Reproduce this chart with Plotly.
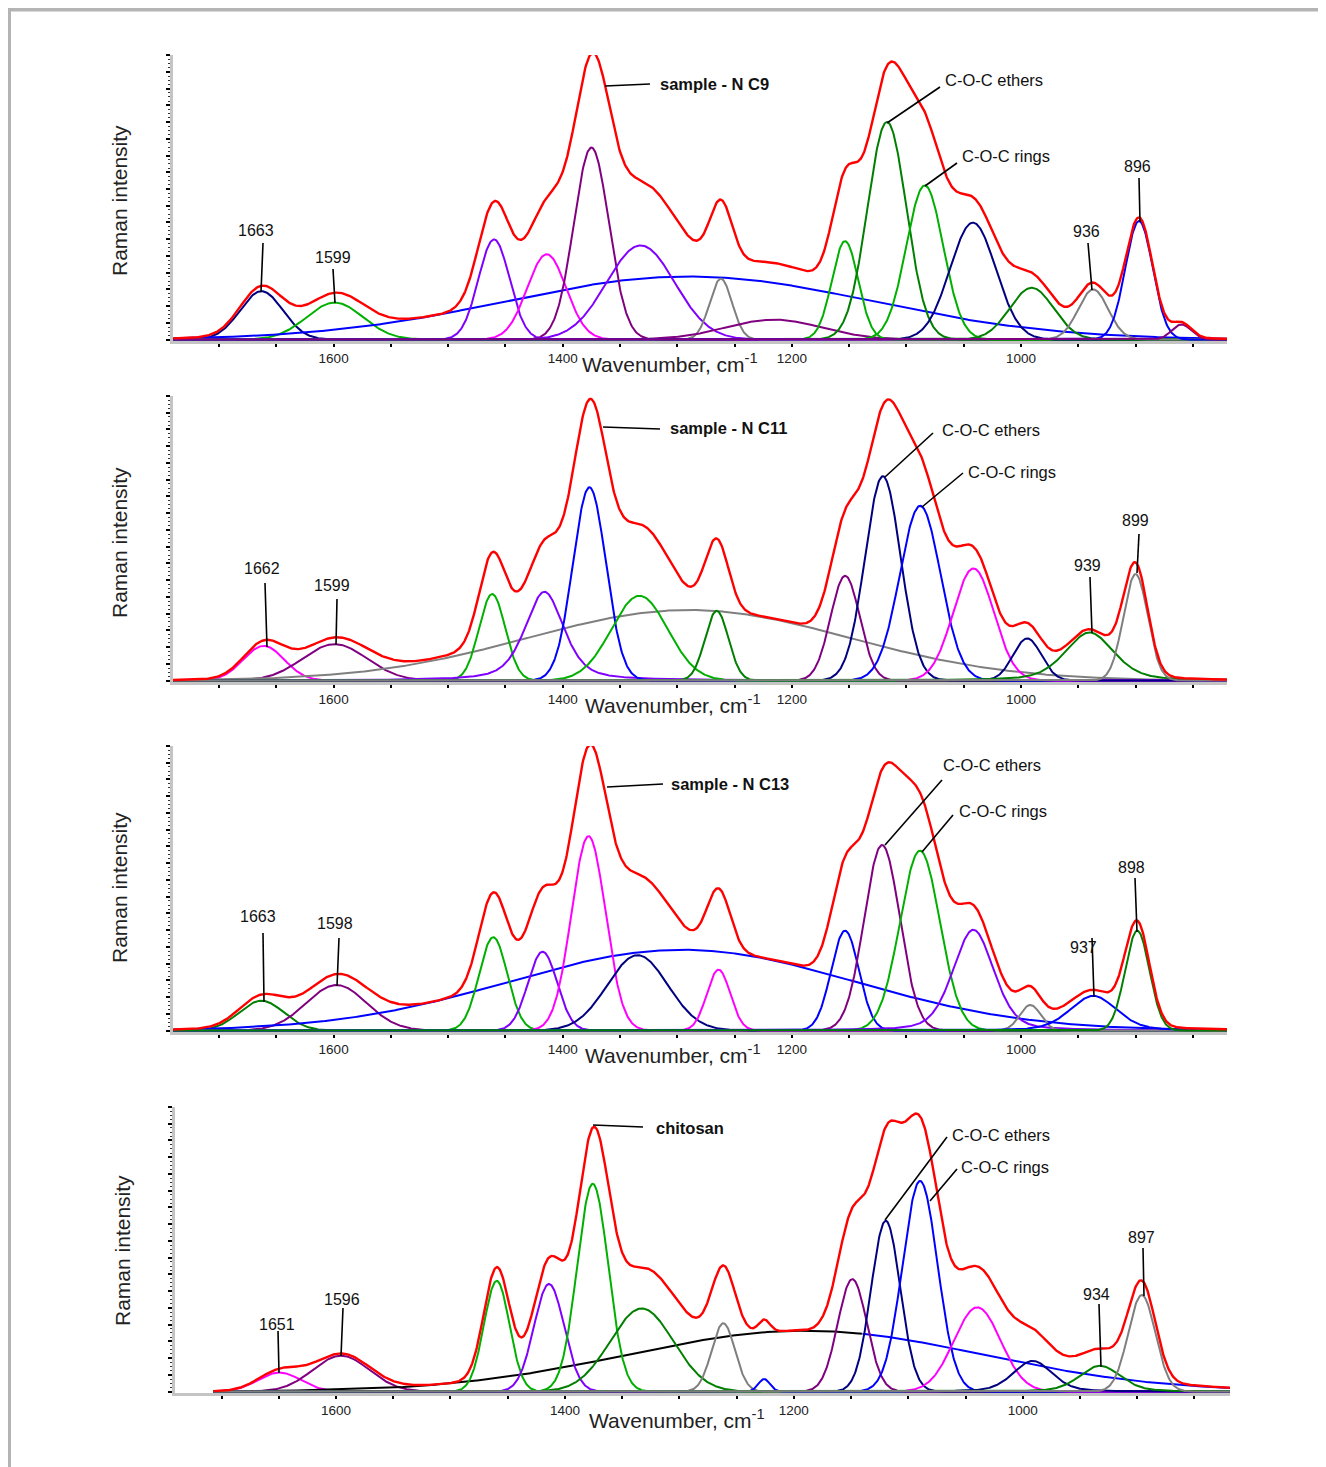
import numpy as np
import plotly.graph_objects as go

PAGE_W, PAGE_H = 1326, 1467
OFF = 8                      # browser body margin
W, H = PAGE_W - OFF, PAGE_H - OFF

# ---------------- colours (styles) ----------------
RED = "#ff0000"; NAVY = "#000080"; BLUE = "#0000ff"; GREEN = "#00b000"; DKGREEN = "#007f00"
VIOLET = "#8000ff"; MAGENTA = "#ff00ff"; PURPLE = "#800080"; GRAY = "#7f7f7f"; BLACK = "#000000"

# ---------------- data: fitted band components (centre cm-1, height, FWHM cm-1, Lorentz fraction) ----------------
# sample - N C9
c9_centers = [1663, 1599, 1290, 1460, 1414, 1375, 1332, 1262, 1216, 1153.6, 1117, 1084, 1042, 990.7, 937, 897, 860]
c9_heights = [17, 13, 22.2, 35.2, 30, 67.5, 33.1, 21.4, 7, 34.6, 76.5, 54.2, 41.1, 18.2, 17.6, 41.7, 5.3]
c9_fwhm    = [44, 58, 377, 32, 40, 36, 70, 23, 99, 27, 40, 38, 47, 45, 31, 28, 20]
c9_eta     = [0, 0, 0, 0, 0, 0, 0, 0, 0, 0, 0, 0, 0, 0, 0, 0, 0]
c9_colors  = [NAVY, GREEN, BLUE, VIOLET, MAGENTA, PURPLE, VIOLET, GRAY, PURPLE, GREEN, DKGREEN, GREEN, NAVY, DKGREEN, GRAY, BLUE, PURPLE]

# sample - N C11
c11_centers = [1661, 1599, 1290, 1461.6, 1416, 1376.7, 1333, 1265.6, 1153.5, 1120.6, 1088, 1041.5, 994.6, 940.2, 900]
c11_heights = [12.2, 12.8, 24.8, 30.4, 31.2, 67.9, 29.8, 24.5, 36.8, 71.8, 61.4, 39.4, 14.8, 16.9, 37.4]
c11_fwhm    = [42, 66, 330, 27, 40, 34, 58, 24, 30, 36.6, 42, 42, 29, 50, 25]
c11_eta     = [0, 0, 0, 0, 0.5, 0, 0, 0, 0, 0, 0, 0, 0, 0.4, 0]
c11_colors  = [MAGENTA, PURPLE, GRAY, GREEN, VIOLET, BLUE, GREEN, DKGREEN, PURPLE, NAVY, BLUE, MAGENTA, NAVY, DKGREEN, GRAY]

# sample - N C13
c13_centers = [1663, 1597.5, 1296, 1460.7, 1417.6, 1377.5, 1334.7, 1264, 1153.6, 1121.3, 1088.2, 1041.6, 991.9, 936.9, 898.5]
c13_heights = [10.5, 16, 28.4, 32.8, 27.7, 68.3, 26.5, 21.4, 35.1, 65.2, 63.2, 35.4, 9, 12.2, 35.1]
c13_fwhm    = [46, 62, 355, 29, 30, 35, 62, 24, 28.5, 36.6, 41, 42, 21.6, 48, 25]
c13_eta     = [0, 0, 0, 0, 0, 0, 0, 0, 0, 0, 0, 0.3, 0, 0.3, 0]
c13_colors  = [DKGREEN, PURPLE, BLUE, GREEN, VIOLET, MAGENTA, NAVY, MAGENTA, BLUE, PURPLE, GREEN, VIOLET, GRAY, BLUE, DKGREEN]

# chitosan
ch_centers = [1649.5, 1595.6, 1190, 1459.6, 1413.9, 1375.7, 1332.9, 1261.6, 1226, 1148.9, 1119.7, 1089.7, 1039.7, 991.3, 932.5, 896]
ch_heights = [6.7, 12.6, 21.4, 38.9, 37.8, 73, 29.2, 24, 4.4, 39.5, 60, 74, 29.6, 10.8, 9.1, 33.9]
ch_fwhm    = [44, 58, 365, 26.3, 31, 32, 65, 24, 12, 30, 30, 36, 48, 40, 42, 28]
ch_eta     = [0, 0, 0, 0, 0, 0, 0, 0, 0, 0, 0, 0, 0, 0.3, 0.3, 0]
ch_colors  = [MAGENTA, PURPLE, BLACK, GREEN, VIOLET, GREEN, DKGREEN, GRAY, BLUE, PURPLE, NAVY, BLUE, MAGENTA, NAVY, DKGREEN, GRAY]

# spectral extents of each recorded spectrum (cm-1)
c9_extent = [1740, 820]
c11_extent = [1740, 820]
c13_extent = [1740, 820]
ch_extent = [1707, 819]

# peak labels
c9_labels = ["1663", "1599", "936", "896"]
c11_labels = ["1662", "1599", "939", "899"]
c13_labels = ["1663", "1598", "937", "898"]
ch_labels = ["1651", "1596", "934", "897"]
sample_names = ["sample - N C9", "sample - N C11", "sample - N C13", "chitosan"]

x_tick_values = [1000, 1200, 1400, 1600]
x_tick_labels = ["1000", "1200", "1400", "1600"]


def profile(x, c, h, fwhm, eta):
    s = fwhm / 2.3548
    g = np.exp(-0.5 * ((x - c) / s) ** 2)
    l = 1.0 / (1.0 + ((x - c) / (fwhm / 2.0)) ** 2)
    return h * ((1 - eta) * g + eta * l)


panels = [
    dict(c=c9_centers, h=c9_heights, f=c9_fwhm, e=c9_eta, col=c9_colors, ext=c9_extent, split=None),
    dict(c=c11_centers, h=c11_heights, f=c11_fwhm, e=c11_eta, col=c11_colors, ext=c11_extent, split=None),
    dict(c=c13_centers, h=c13_heights, f=c13_fwhm, e=c13_eta, col=c13_colors, ext=c13_extent, split=None),
    dict(c=ch_centers, h=ch_heights, f=ch_fwhm, e=ch_eta, col=ch_colors, ext=ch_extent, split=(2, 1140, BLUE)),
]

# layout geometry (page pixels)
x_px = [(173, 1227), (173, 1227), (173, 1227), (175, 1230)]
x_rng = [(1740.2, 820.2), (1740.2, 820.2), (1740.2, 820.2), (1740.7, 818.9)]
y_px = [(55.1, 341), (396, 682), (746, 1032), (1107, 1393)]

FONT = "Liberation Sans, Arial, Helvetica, sans-serif"


def PX(x):
    return (x - OFF) / W


def PY(y):
    return 1 - (y - OFF) / H


fig = go.Figure()

for i, p in enumerate(panels):
    xa = "x" if i == 0 else "x%d" % (i + 1)
    ya = "y" if i == 0 else "y%d" % (i + 1)
    x = np.linspace(p["ext"][0], p["ext"][1], 1600)
    total = np.zeros_like(x)
    for k in range(len(p["c"])):
        y = profile(x, p["c"][k], p["h"][k], p["f"][k], p["e"][k])
        total += y
        if p["split"] is not None and p["split"][0] == k:
            cut, col2 = p["split"][1], p["split"][2]
            yr = np.where(x <= cut, y, np.nan)
            yl = np.where(x >= cut, y, np.nan)
            fig.add_trace(go.Scatter(x=x, y=yr, mode="lines", line=dict(color=col2, width=2),
                                     xaxis=xa, yaxis=ya, hoverinfo="skip"))
            fig.add_trace(go.Scatter(x=x, y=yl, mode="lines", line=dict(color=p["col"][k], width=2),
                                     xaxis=xa, yaxis=ya, hoverinfo="skip"))
        else:
            fig.add_trace(go.Scatter(x=x, y=y, mode="lines", line=dict(color=p["col"][k], width=2),
                                     xaxis=xa, yaxis=ya, hoverinfo="skip"))
    fig.add_trace(go.Scatter(x=x, y=total, mode="lines", line=dict(color=RED, width=2.4),
                             xaxis=xa, yaxis=ya, hoverinfo="skip"))

layout = dict(width=W, height=H, margin=dict(l=0, r=0, t=0, b=0), showlegend=False,
              paper_bgcolor="white", plot_bgcolor="white")

for i in range(4):
    xs = "xaxis" if i == 0 else "xaxis%d" % (i + 1)
    ys = "yaxis" if i == 0 else "yaxis%d" % (i + 1)
    yanc = "y" if i == 0 else "y%d" % (i + 1)
    xanc = "x" if i == 0 else "x%d" % (i + 1)
    layout[xs] = dict(domain=[PX(x_px[i][0]), PX(x_px[i][1])], range=list(x_rng[i]), anchor=yanc,
                      showgrid=False, zeroline=False, showline=True, linecolor="#c4c4c4", linewidth=3,
                      ticks="outside", ticklen=3, tickwidth=2, tickcolor="black",
                      tickmode="array", tickvals=x_tick_values, ticktext=x_tick_labels,
                      minor=dict(ticks="outside", ticklen=3, tickwidth=2, tickcolor="black",
                                 dtick=50, tick0=0, showgrid=False),
                      tickfont=dict(family=FONT, size=13.5, color="#222222"))
    layout[ys] = dict(domain=[PY(y_px[i][1]), PY(y_px[i][0])], range=[-0.5, 100], anchor=xanc,
                      showgrid=False, zeroline=False, showline=True, linecolor="#c4c4c4", linewidth=3,
                      ticks="outside", ticklen=4, tickwidth=1.5, tickcolor="black",
                      tick0=0, dtick=100 / 17, showticklabels=False,
                      minor=dict(ticks="outside", ticklen=2, tickwidth=1.2, tickcolor="#333333",
                                 dtick=100 / 17 / 4, tick0=0))

fig.update_layout(**layout)

ann = []
shapes = []


def text(s, x, y, size=16, anchor="center", angle=0, color="#111111"):
    ann.append(dict(x=PX(x), y=PY(y), xref="paper", yref="paper", text=s, showarrow=False,
                    xanchor=anchor, yanchor="middle", textangle=angle,
                    font=dict(family=FONT, size=size, color=color)))


def line(x0, y0, x1, y1):
    shapes.append(dict(type="line", xref="paper", yref="paper", x0=PX(x0), y0=PY(y0), x1=PX(x1), y1=PY(y1),
                       line=dict(color="black", width=1.6)))


all_labels = [c9_labels, c11_labels, c13_labels, ch_labels]

# label text positions / leader lines, in page pixels
label_pos = [
    [(256, 230), (333, 257), (1086, 232), (1137, 166)],
    [(262, 568), (332, 586), (1087, 565), (1135, 520)],
    [(258, 916), (335, 923), (1083, 947), (1131, 867)],
    [(277, 1324), (342, 1299), (1096, 1294), (1141, 1237)],
]
label_lines = [
    [(263, 243, 261, 292), (333, 269, 335, 303), (1088, 243, 1092, 290), (1139, 178, 1140, 222)],
    [(265, 583, 267, 647), (337, 599, 336, 645), (1090, 577, 1092, 633), (1139, 534, 1137, 573)],
    [(263, 933, 264, 1002), (339, 938, 337, 986), (1092, 938, 1094, 997), (1135, 878, 1137, 932)],
    [(278, 1331, 279, 1373), (343, 1308, 341, 1356), (1099, 1304, 1101, 1367), (1143, 1248, 1144, 1296)],
]
name_pos = [(658, 84), (668, 428), (669, 784), (654, 1128)]
name_line = [(605, 86, 650, 84), (603, 427, 660, 429), (607, 787, 663, 784), (593, 1125, 643, 1127)]
ether_pos = [(943, 80), (940, 430), (941, 765), (950, 1135)]
ether_line = [(887, 123, 940, 87), (885, 477, 933, 433), (885, 845, 942, 780), (885, 1220, 947, 1137)]
ring_pos = [(960, 156), (966, 472), (957, 811), (959, 1167)]
ring_line = [(925, 186, 957, 163), (922, 507, 963, 473), (922, 852, 953, 815), (930, 1201, 957, 1169)]
xtitle_pos = [(580, 363), (583, 704), (583, 1054), (587, 1419)]
ytitle_pos = [(119, 201), (119, 543), (119, 888), (122, 1251)]

for i in range(4):
    for lab, pos, ln in zip(all_labels[i], label_pos[i], label_lines[i]):
        text(lab, pos[0], pos[1], size=16)
        line(*ln)
    text("<b>%s</b>" % sample_names[i], name_pos[i][0], name_pos[i][1], size=16.5, anchor="left")
    line(*name_line[i])
    text("C-O-C ethers", ether_pos[i][0], ether_pos[i][1], size=16.5, anchor="left")
    line(*ether_line[i])
    text("C-O-C rings", ring_pos[i][0], ring_pos[i][1], size=16.5, anchor="left")
    line(*ring_line[i])
    text("Wavenumber, cm<sup>-1</sup>", xtitle_pos[i][0], xtitle_pos[i][1], size=21, anchor="left",
         color="#222222")
    text("Raman intensity", ytitle_pos[i][0], ytitle_pos[i][1], size=21, angle=-90, color="#222222")

# outer frame
shapes.append(dict(type="rect", xref="paper", yref="paper", x0=PX(9), y0=PY(1490), x1=PX(1324), y1=PY(9.5),
                   line=dict(color="#b4b4b4", width=4), layer="below"))

fig.update_layout(annotations=ann, shapes=shapes)
fig.write_html("out.html")
